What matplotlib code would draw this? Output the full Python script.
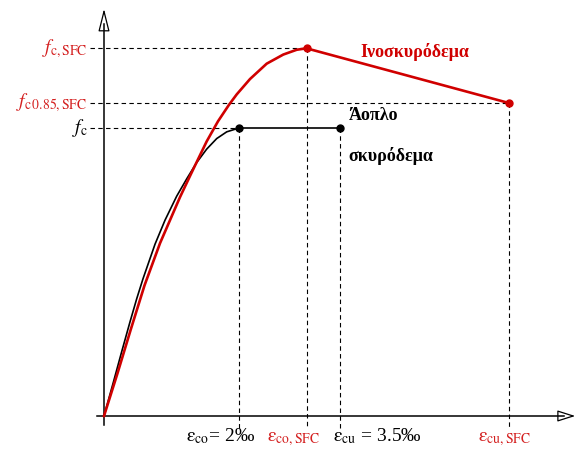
import numpy as np
from matplotlib import pyplot as plt
from matplotlib.patches import FancyArrowPatch

plt.rcParams['font.family'] = ['Liberation Serif', 'DejaVu Serif']
plt.rcParams['mathtext.fontset'] = 'stix'

RED = '#d00000'
LRED = '#d42020'

# strain in per mille, stress in MPa
eps_plain = [0, 0.138, 0.262, 0.385, 0.484, 0.578, 0.756, 0.904, 1.077, 1.225,
             1.373, 1.521, 1.67, 1.818, 2.0, 3.5]
sig_plain = [0, 3.5, 6.7, 9.8, 12.2, 14.3, 17.9, 20.4, 22.9, 24.7,
             26.4, 27.8, 28.9, 29.6, 30.0, 30.0]

eps_sfc = [0, 0.2, 0.396, 0.6, 0.83, 0.978, 1.126, 1.274, 1.397, 1.521, 1.689,
           1.85, 1.966, 2.163, 2.41, 2.656, 2.855, 3.0, 6.0]
sig_sfc = [0, 4.45, 9.0, 13.6, 18.0, 20.4, 22.8, 25.0, 26.8, 28.6, 30.7,
           32.4, 33.5, 35.1, 36.7, 37.65, 38.15, 38.3, 32.6]

eps_co, eps_cu = 2.0, 3.5
eps_co_sfc, eps_cu_sfc = 3.0, 6.0
f_c, f_c_sfc, f_c085_sfc = 30.0, 38.3, 32.6

fig = plt.figure(figsize=(5.79, 4.5), dpi=100)
ax = fig.add_axes([0, 0, 1, 1])
ax.set_xlim(-104 / 67.5, (579 - 104) / 67.5)
ax.set_ylim(-34 / 9.6, 416 / 9.6)
ax.axis('off')

px = 1 / 67.5   # one pixel in x units
py = 1 / 9.6    # one pixel in y units

# axes with hollow arrowheads
ax.plot([-7 * px, 460 * px], [0, 0], color='black', lw=1.1)
ax.plot([0, 0], [-9 * py, 392 * py], color='black', lw=1.1)
ax.add_patch(FancyArrowPatch((455 * px, 0), (474 * px, 0),
                             arrowstyle='-|>,head_length=1.1,head_width=0.35',
                             mutation_scale=10, fc='white', ec='black', lw=0.9))
ax.add_patch(FancyArrowPatch((0, 385 * py), (0, 410 * py),
                             arrowstyle='-|>,head_length=1.4,head_width=0.35',
                             mutation_scale=10, fc='white', ec='black', lw=0.9))

# guide lines
dash = dict(color='black', lw=0.8, linestyle=(0, (4, 3)))
for x, y in [(eps_co, f_c), (eps_cu, f_c), (eps_co_sfc, f_c_sfc), (eps_cu_sfc, f_c085_sfc)]:
    ax.plot([x, x], [y, -13 * py], **dash)
for x, y in [(eps_co, f_c), (eps_co_sfc, f_c_sfc), (eps_cu_sfc, f_c085_sfc)]:
    ax.plot([-14 * px, x], [y, y], **dash)

# curves
ax.plot(eps_plain, sig_plain, color='black', lw=1.2, solid_joinstyle='round')
ax.plot([eps_plain[-2], eps_plain[-1]], [sig_plain[-2], sig_plain[-1]], 'o',
        color='black', ms=5)
ax.plot(eps_sfc, sig_sfc, color=RED, lw=1.9, solid_joinstyle='round')
ax.plot([eps_co_sfc, eps_cu_sfc], [f_c_sfc, f_c085_sfc], 'o', color=RED, ms=5)

# curve labels
ax.text(3.8, 37.9, 'Ινοσκυρόδεμα', color=RED, fontsize=13, fontweight='bold',
        ha='left', va='center')
ax.text(3.62, 31.3, 'Άοπλο', color='black', fontsize=13, fontweight='bold',
        ha='left', va='center')
ax.text(3.62, 27.1, 'σκυρόδεμα', color='black', fontsize=13, fontweight='bold',
        ha='left', va='center')

# y labels
ax.text(-16 * px, f_c_sfc, r'$f_{\mathrm{c,SFC}}$', color=LRED, fontsize=14,
        ha='right', va='center')
ax.text(-17 * px, f_c085_sfc, r'$f_{\mathrm{c\,0.85,SFC}}$', color=LRED, fontsize=14,
        ha='right', va='center')
ax.text(-16 * px, f_c, r'$f_{\mathrm{c}}$', color='black', fontsize=14,
        ha='right', va='center')

# x labels
ax.text(eps_co - 53 * px, -25 * py, r'$\mathrm{\varepsilon_{co}}$= 2‰', color='black',
        fontsize=14, ha='left', va='baseline')
ax.text(eps_co_sfc - 13 * px, -25 * py, r'$\mathrm{\varepsilon_{co,SFC}}$', color=LRED,
        fontsize=14, ha='center', va='baseline')
ax.text(eps_cu - 7 * px, -25 * py, r'$\mathrm{\varepsilon_{cu}}$ = 3.5‰', color='black',
        fontsize=14, ha='left', va='baseline')
ax.text(eps_cu_sfc - 5 * px, -25 * py, r'$\mathrm{\varepsilon_{cu,SFC}}$', color=LRED,
        fontsize=14, ha='center', va='baseline')

fig.savefig('out.png', dpi=100)
